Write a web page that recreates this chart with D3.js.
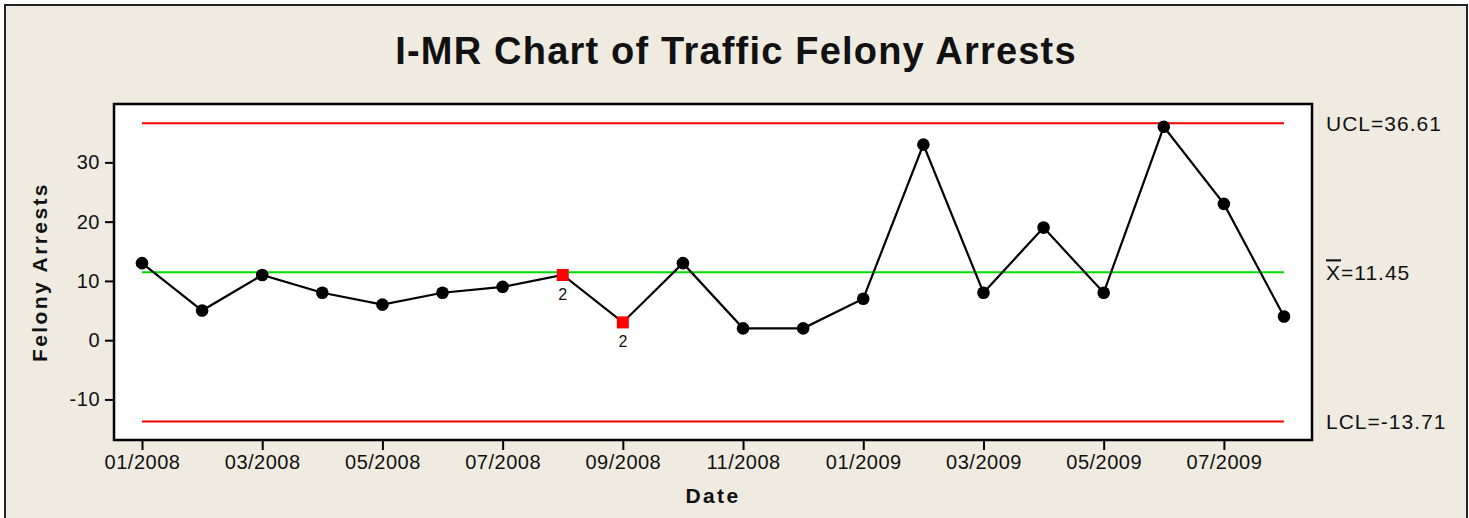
<!DOCTYPE html>
<html lang="en">
<head>
<meta charset="UTF-8">
<title>I-MR Chart of Traffic Felony Arrests</title>
<script src="https://cdnjs.cloudflare.com/ajax/libs/d3/7.8.5/d3.min.js"></script>
<style>
  body { margin: 0; background: #fff; }
  text { fill: #111; }
</style>
</head>
<body>
<svg id="chart" width="1469" height="518"></svg>
<script>
// monthly observations
const months = ["01/2008","02/2008","03/2008","04/2008","05/2008","06/2008","07/2008","08/2008","09/2008","10/2008",
                "11/2008","12/2008","01/2009","02/2009","03/2009","04/2009","05/2009","06/2009","07/2009","08/2009"];
const arrests = [13, 5, 11, 8, 6, 8, 9, 11, 3, 13, 2, 2, 7, 33, 8, 19, 8, 36, 23, 4];
// points failing test 2
const flagged = [7, 8];
const flagLabel = "2";
const tickMonths = ["01/2008","03/2008","05/2008","07/2008","09/2008","11/2008","01/2009","03/2009","05/2009","07/2009"];
const yTicks = [-10, 0, 10, 20, 30];
const limits = {ucl: 36.61, mean: 11.45, lcl: -13.71};

const svg = d3.select("#chart");
const W = 1469, H = 518;

// frame
svg.append("rect").attr("x", 0).attr("y", 0).attr("width", W).attr("height", H).attr("fill", "#fff");
svg.append("rect").attr("x", 5).attr("y", 5).attr("width", 1462).attr("height", 530)
  .attr("fill", "#efebe0").attr("stroke", "#222").attr("stroke-width", 2);

const plot = {left: 114, top: 104, right: 1312, bottom: 440};

svg.append("rect").attr("x", plot.left).attr("y", plot.top)
  .attr("width", plot.right - plot.left).attr("height", plot.bottom - plot.top)
  .attr("fill", "#fff");

const x = d3.scalePoint().domain(months).range([142, 1284]);
const y = d3.scaleLinear().domain([-16.84, 39.85]).range([plot.bottom, plot.top]);

const sans = "Liberation Sans, sans-serif";

// title
svg.append("text").attr("x", 736).attr("y", 64).attr("text-anchor", "middle")
  .style("font-family", sans).style("font-weight", "bold").style("font-size", "38px")
  .style("letter-spacing", "1.2px")
  .text("I-MR Chart of Traffic Felony Arrests");

// y axis
const yAxis = svg.append("g").attr("transform", `translate(${plot.left},0)`)
  .call(d3.axisLeft(y).tickValues(yTicks).tickFormat(d => String(d)).tickSize(9).tickPadding(5));
yAxis.select(".domain").remove();
yAxis.selectAll("line").attr("stroke", "#000").attr("stroke-width", 2);
yAxis.selectAll("text").style("font-family", sans)
  .style("font-size", "20px").style("letter-spacing", "0.5px").attr("fill", "#111");

// x axis
const xAxis = svg.append("g").attr("transform", `translate(0,${plot.bottom})`)
  .call(d3.axisBottom(x).tickValues(tickMonths).tickSize(10).tickPadding(5));
xAxis.select(".domain").remove();
xAxis.selectAll("line").attr("stroke", "#000").attr("stroke-width", 2);
xAxis.selectAll("text").style("font-family", sans)
  .style("font-size", "20px").style("letter-spacing", "0.5px").attr("fill", "#111");

// plot border
svg.append("rect").attr("x", plot.left).attr("y", plot.top)
  .attr("width", plot.right - plot.left).attr("height", plot.bottom - plot.top)
  .attr("fill", "none").attr("stroke", "#000").attr("stroke-width", 2.5);

// axis titles
svg.append("text").attr("transform", `translate(47,${(plot.top + plot.bottom) / 2}) rotate(-90)`)
  .attr("text-anchor", "middle")
  .style("font-family", sans).style("font-weight", "bold").style("font-size", "21px")
  .style("letter-spacing", "2.4px")
  .text("Felony Arrests");
svg.append("text").attr("x", 713).attr("y", 503).attr("text-anchor", "middle")
  .style("font-family", sans).style("font-weight", "bold").style("font-size", "21px")
  .style("letter-spacing", "2.4px")
  .text("Date");

// control lines
const x0 = x(months[0]), x1 = x(months[months.length - 1]);
[["ucl", "#ff0000"], ["lcl", "#ff0000"], ["mean", "#00e000"]].forEach(([k, c]) => {
  svg.append("line").attr("x1", x0).attr("x2", x1)
    .attr("y1", y(limits[k])).attr("y2", y(limits[k]))
    .attr("stroke", c).attr("stroke-width", 2);
});

// right labels
const labStyle = t => t.style("font-family", sans).style("font-size", "21px").style("letter-spacing", "1px");
svg.append("text").attr("x", 1326).attr("y", y(limits.ucl) + 8).call(labStyle)
  .text("UCL=" + limits.ucl.toFixed(2));
const mt = svg.append("text").attr("x", 1326).attr("y", y(limits.mean) + 8).call(labStyle);
mt.append("tspan").style("text-decoration", "overline").text("X");
mt.append("tspan").text("=" + limits.mean.toFixed(2));
svg.append("text").attr("x", 1326).attr("y", y(limits.lcl) + 8).call(labStyle)
  .text("LCL=" + limits.lcl.toFixed(2));

// data line
const line = d3.line().x((d, i) => x(months[i])).y(d => y(d));
svg.append("path").datum(arrests).attr("d", line)
  .attr("fill", "none").attr("stroke", "#000").attr("stroke-width", 2.2);

// points
svg.append("g").selectAll("circle")
  .data(arrests.map((v, i) => ({v, i})).filter(d => !flagged.includes(d.i)))
  .join("circle")
  .attr("cx", d => x(months[d.i])).attr("cy", d => y(d.v)).attr("r", 6.3)
  .attr("fill", "#000");

const fl = svg.append("g").selectAll("g")
  .data(flagged.map(i => ({i, v: arrests[i]})))
  .join("g");
fl.append("rect")
  .attr("x", d => x(months[d.i]) - 6).attr("y", d => y(d.v) - 6)
  .attr("width", 12).attr("height", 12).attr("fill", "#ff0000");
fl.append("text")
  .attr("x", d => x(months[d.i])).attr("y", d => y(d.v) + 25)
  .attr("text-anchor", "middle")
  .style("font-family", sans).style("font-size", "16px")
  .text(flagLabel);
</script>
</body>
</html>
